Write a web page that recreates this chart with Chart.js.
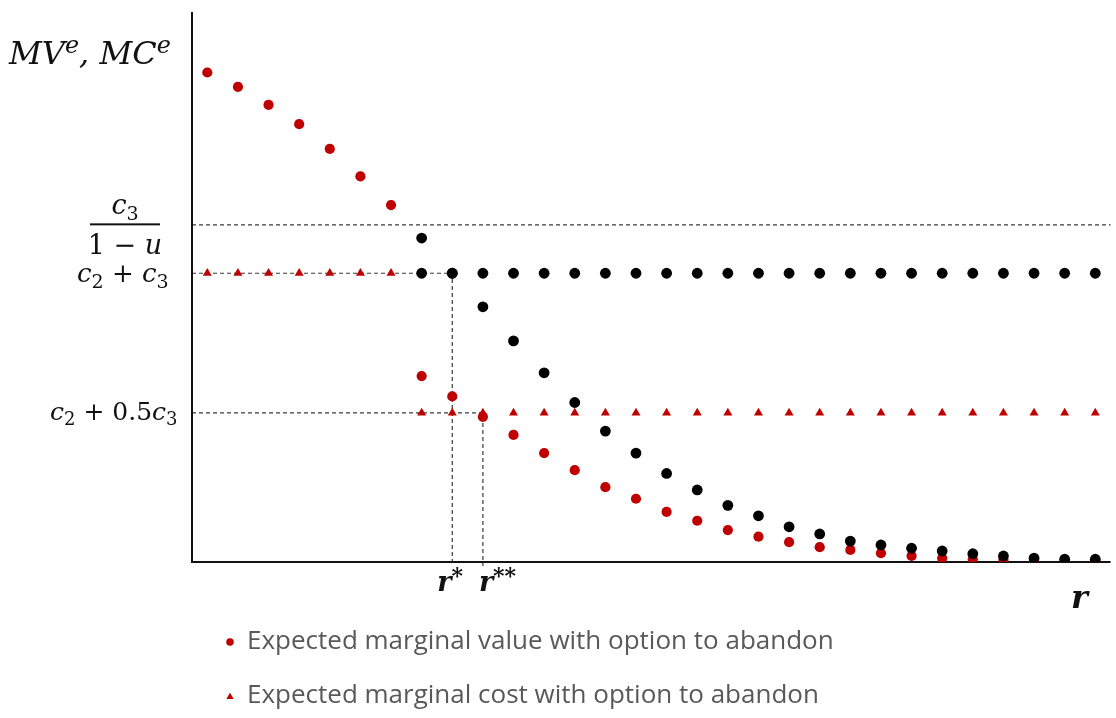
<!DOCTYPE html>
<html>
<head>
<meta charset="utf-8">
<script src="https://cdn.jsdelivr.net/npm/chart.js@4.4.1/dist/chart.umd.min.js"></script>
<style>
    html, body { margin: 0; padding: 0; background: #ffffff; }
    #chart { display: block; }
</style>
</head>
<body>
<canvas id="chart" width="1116" height="718"></canvas>
<script>
/* ==========================================
   DATA
========================================== */

const rSteps = [
    "1", "2", "3", "4", "5", "6", "7", "8", "9", "10",
    "11", "12", "13", "14", "15", "16", "17", "18", "19", "20",
    "21", "22", "23", "24", "25", "26", "27", "28", "29", "30"
];

// red dots: expected marginal value with option to abandon
const mvWithOption = [
    89.0, 86.4, 83.1, 79.6, 75.1, 70.1, 64.9, 33.8, 30.1, 26.4,
    23.1, 19.8, 16.7, 13.6, 11.5, 9.1, 7.5, 5.8, 4.6, 3.6,
    2.7, 2.2, 1.6, 1.1, 0.7, 0.5, 0.4, 0.35, 0.3, 0.2
];

// red triangles: expected marginal cost with option to abandon
const mcWithOption = [
    52.5, 52.5, 52.5, 52.5, 52.5, 52.5, 52.5, 27.1, 27.1, 27.1,
    27.1, 27.1, 27.1, 27.1, 27.1, 27.1, 27.1, 27.1, 27.1, 27.1,
    27.1, 27.1, 27.1, 27.1, 27.1, 27.1, 27.1, 27.1, 27.1, 27.1
];

// black dots: marginal value without the option
const mvWithout = [
    null, null, null, null, null, null, null, 58.9, 52.5, 46.4,
    40.2, 34.4, 29.0, 23.8, 19.8, 16.1, 13.1, 10.3, 8.4, 6.4,
    5.1, 3.8, 3.1, 2.5, 2.0, 1.5, 1.1, 0.7, 0.5, 0.5
];

// black dots: marginal cost without the option
const mcWithout = [
    null, null, null, null, null, null, null, 52.5, 52.5, 52.5,
    52.5, 52.5, 52.5, 52.5, 52.5, 52.5, 52.5, 52.5, 52.5, 52.5,
    52.5, 52.5, 52.5, 52.5, 52.5, 52.5, 52.5, 52.5, 52.5, 52.5
];

// guide levels: c3/(1-u), c2+c3, c2+0.5c3
const guideLevels = [61.3, 52.5, 27.1];

// positions of r* and r** on the r axis
const rMarks = [8, 9];

/* ==========================================
   STYLE
========================================== */

const RED = "#C00000";
const BLACK = "#000000";
const MATH_FONT = "'DejaVu Serif', serif";
const TEXT_FONT = "'Open Sans', Lato, sans-serif";

/* ==========================================
   MATH TEXT HELPER
========================================== */

function drawMath(ctx, parts, x, y, size) {
    let cx = x;
    parts.forEach(([text, kind]) => {
        let font = "italic " + size + "px " + MATH_FONT;
        let dy = 0;
        if (kind === "n") font = size + "px " + MATH_FONT;
        if (kind === "b") font = "italic bold " + size + "px " + MATH_FONT;
        if (kind === "sub") { font = Math.round(size * 0.72) + "px " + MATH_FONT; dy = size * 0.22; }
        if (kind === "sup") { font = "italic " + Math.round(size * 0.75) + "px " + MATH_FONT; dy = -size * 0.34; }
        if (kind === "star") { font = "bold " + Math.round(size * 0.8) + "px " + MATH_FONT; dy = -size * 0.3; }
        ctx.font = font;
        ctx.fillText(text, cx, y + dy);
        cx += ctx.measureText(text).width;
    });
    return cx - x;
}

function mathWidth(ctx, parts, size) {
    ctx.save();
    ctx.globalAlpha = 0;
    const w = drawMath(ctx, parts, 0, 0, size);
    ctx.restore();
    return w;
}

/* ==========================================
   AXES, GUIDES AND LABELS PLUGIN
========================================== */

const diagramPlugin = {
    id: "diagram",

    beforeDraw(chart) {
        const { ctx, width, height } = chart;
        ctx.save();
        ctx.fillStyle = "#ffffff";
        ctx.fillRect(0, 0, width, height);
        ctx.restore();
    },

    beforeDatasetsDraw(chart) {
        const { ctx, chartArea, scales } = chart;
        const x = scales.x;
        const y = scales.y;

        const yTop = y.getPixelForValue(guideLevels[0]);
        const yMid = y.getPixelForValue(guideLevels[1]);
        const yLow = y.getPixelForValue(guideLevels[2]);
        const xStar = x.getPixelForValue(rMarks[0]);
        const xStar2 = x.getPixelForValue(rMarks[1]);

        ctx.save();
        ctx.strokeStyle = "#3a3a3a";
        ctx.lineWidth = 1.2;
        ctx.setLineDash([4, 3]);

        ctx.beginPath();
        ctx.moveTo(chartArea.left, yTop);
        ctx.lineTo(chartArea.right, yTop);

        ctx.moveTo(chartArea.left, yMid);
        ctx.lineTo(xStar, yMid);
        ctx.lineTo(xStar, chartArea.bottom + 4);

        ctx.moveTo(chartArea.left, yLow);
        ctx.lineTo(xStar2, yLow);
        ctx.lineTo(xStar2, chartArea.bottom + 4);
        ctx.stroke();
        ctx.restore();

        // axes
        ctx.save();
        ctx.strokeStyle = "#111111";
        ctx.lineWidth = 2;
        ctx.beginPath();
        ctx.moveTo(chartArea.left, chartArea.top);
        ctx.lineTo(chartArea.left, chartArea.bottom);
        ctx.lineTo(chartArea.right, chartArea.bottom);
        ctx.stroke();
        ctx.restore();

        // labels
        ctx.save();
        ctx.fillStyle = "#111111";
        ctx.textBaseline = "alphabetic";
        ctx.textAlign = "left";

        drawMath(ctx, [["MV", "i"], ["e", "sup"], [", ", "i"], ["MC", "i"], ["e", "sup"]], 9, 64, 32);

        // fraction c3 / (1 - u)
        const num = [["c", "i"], ["3", "sub"]];
        const den = [["1 \u2212 ", "n"], ["u", "i"]];
        const fracCx = 125;
        drawMath(ctx, num, fracCx - mathWidth(ctx, num, 27) / 2, yTop - 11, 27);
        drawMath(ctx, den, fracCx - mathWidth(ctx, den, 27) / 2, yTop + 29, 27);
        ctx.fillRect(90, yTop - 1.5, 70, 2);

        drawMath(ctx, [["c", "i"], ["2", "sub"], [" + ", "n"], ["c", "i"], ["3", "sub"]], 77, yMid + 9, 26);
        drawMath(ctx, [["c", "i"], ["2", "sub"], [" + 0.5", "n"], ["c", "i"], ["3", "sub"]], 50, yLow + 7, 25);

        drawMath(ctx, [["r", "b"], ["*", "star"]], xStar - 15, chartArea.bottom + 29, 27);
        drawMath(ctx, [["r", "b"], ["**", "star"]], xStar2 - 4, chartArea.bottom + 29, 27);
        drawMath(ctx, [["r", "b"]], 1071, chartArea.bottom + 46, 32);
        ctx.restore();
    },

    afterDraw(chart) {
        const { ctx } = chart;
        const sets = chart.data.datasets.filter(d => d.inLegend);
        const rows = [642, 696];

        ctx.save();
        sets.forEach((ds, i) => {
            const yy = rows[i];
            ctx.fillStyle = RED;
            if (ds.pointStyle === "triangle") {
                Chart.helpers.drawPoint(ctx, { pointStyle: "triangle", radius: 4, borderWidth: 0 }, 230, yy + 1);
                ctx.fill();
            } else {
                ctx.beginPath();
                ctx.arc(230, yy, 3.8, 0, Math.PI * 2);
                ctx.fill();
            }
            ctx.fillStyle = "#595959";
            ctx.font = "26px " + TEXT_FONT;
            ctx.textBaseline = "middle";
            ctx.fillText(ds.label, 247, yy);
        });
        ctx.restore();
    }
};

/* ==========================================
   CHART
========================================== */

function initializeChart() {

    const canvas = document.getElementById("chart");

    new Chart(canvas, {
        type: "line",

        data: {
            labels: rSteps,

            datasets: [
                {
                    label: "Marginal value without option",
                    data: mvWithout,
                    pointStyle: "circle",
                    pointRadius: 5.4,
                    backgroundColor: BLACK,
                    order: 1
                },
                {
                    label: "Marginal cost without option",
                    data: mcWithout,
                    pointStyle: "circle",
                    pointRadius: 5.4,
                    backgroundColor: BLACK,
                    order: 2
                },
                {
                    label: "Expected marginal value with option to abandon",
                    data: mvWithOption,
                    pointStyle: "circle",
                    pointRadius: 5.1,
                    backgroundColor: RED,
                    inLegend: true,
                    order: 3
                },
                {
                    label: "Expected marginal cost with option to abandon",
                    data: mcWithOption,
                    pointStyle: "triangle",
                    pointRadius: 5.2,
                    backgroundColor: RED,
                    inLegend: true,
                    order: 4
                }
            ].map(ds => Object.assign({
                showLine: false,
                pointBorderWidth: 0,
                borderWidth: 0,
                pointHoverRadius: 5,
                spanGaps: false
            }, ds))
        },

        options: {
            responsive: false,
            animation: false,
            events: [],

            layout: {
                padding: { left: 192, right: 0, top: 12, bottom: 156 }
            },

            plugins: {
                legend: { display: false },
                tooltip: { enabled: false }
            },

            scales: {
                x: {
                    type: "category",
                    display: false,
                    offset: true
                },
                y: {
                    display: false,
                    min: 0,
                    max: 100
                }
            }
        },

        plugins: [diagramPlugin]
    });

}

document.addEventListener("DOMContentLoaded", initializeChart);
</script>
</body>
</html>
